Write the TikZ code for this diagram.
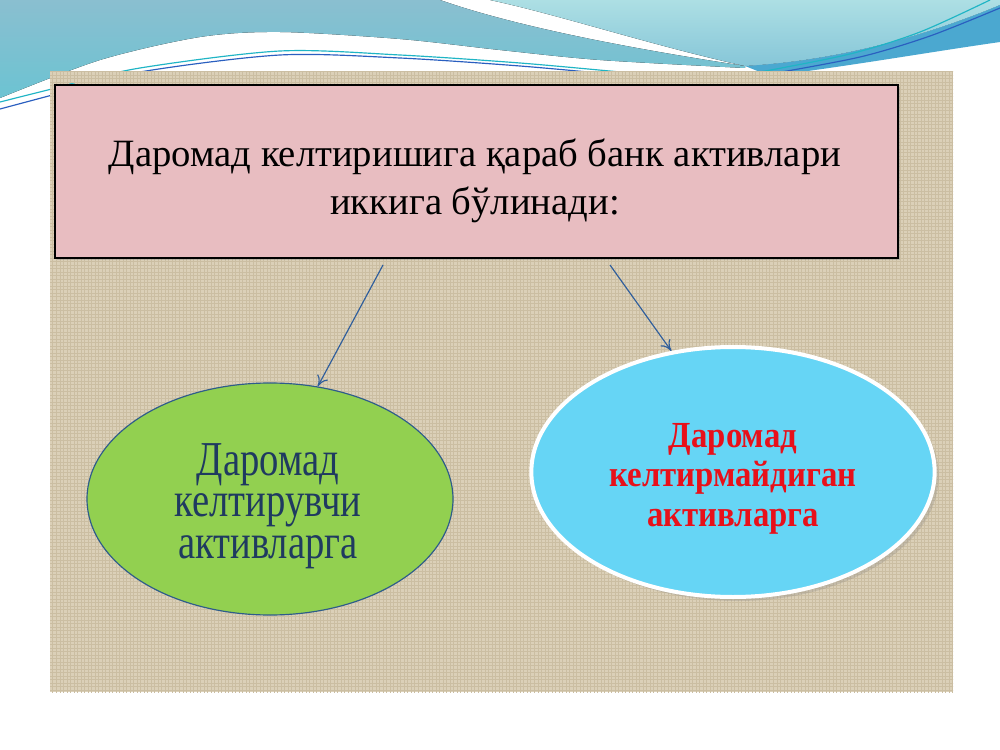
\documentclass[tikz,border=0pt]{standalone}
\usepackage{fontspec}
\setmainfont{Liberation Serif}
\usetikzlibrary{arrows.meta,shapes.geometric,shadows,patterns}
\definecolor{panelc}{HTML}{DBD0B8}
\definecolor{gridc}{HTML}{CBBEA2}
\definecolor{pinkc}{HTML}{E8BDC1}
\definecolor{greenc}{HTML}{92D050}
\definecolor{greenedge}{HTML}{2E5C8A}
\definecolor{bluec}{HTML}{66D5F5}
\definecolor{navyc}{HTML}{1F3A60}
\definecolor{redc}{HTML}{E8101A}
\definecolor{arrowc}{HTML}{2F5E9C}
\definecolor{medtop}{HTML}{8ABFD0}
\definecolor{medbot}{HTML}{6CC3D2}
\definecolor{lighttop}{HTML}{ADDFE4}
\definecolor{lightbot}{HTML}{86C6D8}
\definecolor{darksweep}{HTML}{4BA8D0}
\definecolor{tealline}{HTML}{1FB5C5}
\definecolor{blueline}{HTML}{2A5FC0}
\definecolor{bulletc}{HTML}{33C3D0}
\begin{document}
\begin{tikzpicture}[x=0.3mm,y=-0.3mm,
  titlebox/.style={draw=black, line width=0.45mm, fill=pinkc, minimum width=252.9mm, minimum height=51.9mm, inner sep=0pt, drop shadow={shadow xshift=0.6mm, shadow yshift=-0.6mm, opacity=0.35}},
  txt/.style={anchor=base, inner sep=0pt, outer sep=0pt},
  greenell/.style={ellipse, draw=greenedge, line width=0.35mm, fill=greenc, minimum width=109.8mm, minimum height=69.6mm, inner sep=0pt},
  blueell/.style={ellipse, draw=white, line width=1.2mm, fill=bluec, minimum width=121mm, minimum height=75mm, inner sep=0pt, drop shadow={shadow xshift=1.2mm, shadow yshift=-1.2mm, opacity=0.25}},
  arr/.style={draw=arrowc, line width=0.35mm, -{To[length=3.2mm,width=3.6mm]}},
  wline/.style={line width=0.35mm}
]
\useasboundingbox (0,0) rectangle (1000,750);
\fill[white] (0,0) rectangle (1000,750);
% top decoration
\fill[top color=medtop, bottom color=medbot] (0,0) -- (440,0) .. controls (520,28) and (640,50) .. (745,66)
  -- plot[smooth] coordinates {(745,68) (600,60) (500,50) (400,39) (280,32) (200,37) (100,60) (0,98)} -- cycle;
\fill[top color=lighttop, bottom color=lightbot] (490,0) -- (1000,0) -- (1000,5) .. controls (940,30) and (850,60) .. (745,66) .. controls (650,45) and (560,15) .. (490,0) -- cycle;
\fill[darksweep] (745,66) .. controls (850,60) and (940,30) .. (1000,5) -- (1000,42) .. controls (930,52) and (850,66) .. (770,76) -- cycle;
\draw[wline, tealline] plot[smooth] coordinates {(0,102) (60,87) (140,68) (280,51) (400,55) (520,63) (620,72)};
\draw[wline, blueline] plot[smooth] coordinates {(0,109) (60,93) (140,72) (280,55) (400,58) (520,66) (620,75)};
\draw[wline, tealline] plot[smooth] coordinates {(760,72) (850,54) (920,32) (990,0)};
\draw[wline, blueline] plot[smooth] coordinates {(770,74) (860,57) (930,36) (1000,8)};
% panel
\fill[panelc] (50,72) rectangle (953,692);
\fill[pattern=grid, pattern color=gridc] (50,72) rectangle (953,692);
\fill[bulletc] (72,89) circle (6);
% title box
\node[titlebox] (title) at (476.5,171.5) {};
\node[txt, font=\fontsize{33}{41.7}\selectfont] (titletxt) at (475,166)
  {\begin{tabular}[t]{@{}c@{}}Даромад келтиришига қараб банк активлари\\иккига бўлинади:\end{tabular}};
% ellipses
\node[greenell] (gain) at (270,499) {};
\node[txt, text=navyc, font=\fontsize{33}{28.2}\selectfont] (gaintxt) at (268,475)
  {\scalebox{1}[1.26]{\begin{tabular}[t]{@{}c@{}}Даромад\\келтирувчи\\активларга\end{tabular}}};
\node[blueell] (nogain) at (733,472) {};
\node[txt, text=redc, font=\bfseries\fontsize{28}{30.4}\selectfont] (nogaintxt) at (733,447)
  {\scalebox{1}[1.12]{\begin{tabular}[t]{@{}c@{}}Даромад\\келтирмайдиган\\активларга\end{tabular}}};
% arrows
\coordinate (s1) at (383,265);
\coordinate (s2) at (610,265);
\draw[arr] (s1) -- (gain.67);
\draw[arr] (s2) -- (nogain.117);
\end{tikzpicture}
\end{document}
